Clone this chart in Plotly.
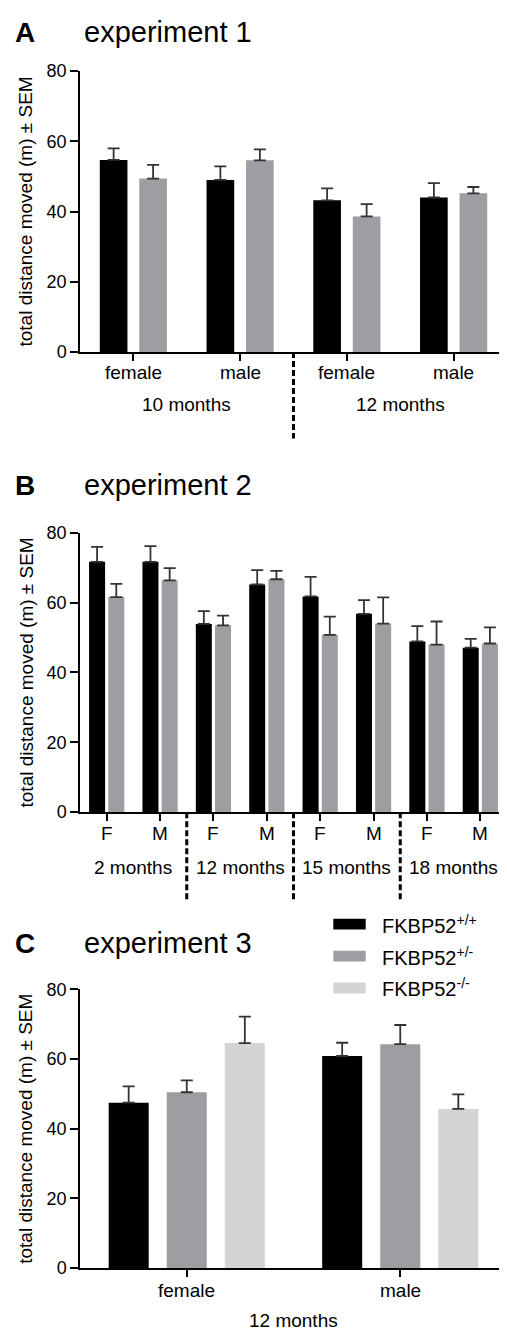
import plotly.graph_objects as go

# The page body has an 8px default margin, so the figure is sized to fit
# inside the 507x1344 window and all page positions are shifted by OFF.
PAGE_W, PAGE_H = 507, 1344
OFF = 8
W, H = PAGE_W - OFF, PAGE_H - 2 * OFF

# ---------------- data ----------------
genotypes = ["FKBP52<sup>+/+</sup>", "FKBP52<sup>+/-</sup>", "FKBP52<sup>-/-</sup>"]

# Experiment 1
exp1_ticks = ["female", "male", "female", "male"]
exp1_groups = ["10 months", "12 months"]
exp1_wt = [54.7, 49.0, 43.2, 44.0]
exp1_wt_sem = [3.3, 3.9, 3.4, 4.1]
exp1_het = [49.4, 54.6, 38.6, 45.2]
exp1_het_sem = [3.9, 3.1, 3.5, 1.8]

# Experiment 2
exp2_ticks = ["F", "M", "F", "M", "F", "M", "F", "M"]
exp2_groups = ["2 months", "12 months", "15 months", "18 months"]
exp2_wt = [71.7, 71.7, 53.9, 65.2, 61.8, 56.8, 48.9, 47.1]
exp2_wt_sem = [4.3, 4.5, 3.7, 4.1, 5.6, 3.9, 4.4, 2.5]
exp2_het = [61.6, 66.4, 53.5, 66.7, 50.8, 54.0, 48.0, 48.3]
exp2_het_sem = [3.8, 3.5, 2.8, 2.4, 5.2, 7.5, 6.6, 4.6]

# Experiment 3
exp3_ticks = ["female", "male"]
exp3_groups = ["12 months"]
exp3_wt = [47.5, 60.9]
exp3_wt_sem = [4.7, 3.8]
exp3_het = [50.5, 64.3]
exp3_het_sem = [3.4, 5.5]
exp3_ko = [64.6, 45.7]
exp3_ko_sem = [7.6, 4.2]

y_ticks = [0, 20, 40, 60, 80]
y_title = "total distance moved (m) ± SEM"

# ---------------- style ----------------
FONT = "Liberation Sans, Arial, Helvetica, sans-serif"
COLORS = ["#000000", "#9d9da2", "#d4d4d4"]
ERR_COLOR = "#333333"


def py(p):
    return 1 - (p - OFF) / H


def px_x(p):
    return (p - OFF) / W


panels = [
    # (top px, bottom px) on the page
    (62.0, 347.0),
    (530.7, 814.3),
    (994.3, 1277.3),
]

fig = go.Figure()


def add_bars(axis_idx, values, sems, color, offset, width, name):
    xs = list(range(len(values)))
    fig.add_trace(go.Bar(
        x=xs, y=values, name=name, showlegend=False,
        marker=dict(color=color, line=dict(width=0)),
        offset=offset, width=width,
        error_y=dict(type="data", symmetric=False, array=sems,
                     arrayminus=[0] * len(values), color=ERR_COLOR,
                     thickness=1.8, width=6),
        xaxis="x" if axis_idx == 1 else f"x{axis_idx}",
        yaxis="y" if axis_idx == 1 else f"y{axis_idx}",
    ))


# Panel A
wA = 0.259
add_bars(1, exp1_wt, exp1_wt_sem, COLORS[0], -0.185 - wA / 2, wA, genotypes[0])
add_bars(1, exp1_het, exp1_het_sem, COLORS[1], 0.185 - wA / 2, wA, genotypes[1])
# Panel B
wB = 0.30
add_bars(2, exp2_wt, exp2_wt_sem, COLORS[0], -0.18 - wB / 2, wB, genotypes[0])
add_bars(2, exp2_het, exp2_het_sem, COLORS[1], 0.18 - wB / 2, wB, genotypes[1])
# Panel C
wC = 0.1875
add_bars(3, exp3_wt, exp3_wt_sem, COLORS[0], -0.272 - wC / 2, wC, genotypes[0])
add_bars(3, exp3_het, exp3_het_sem, COLORS[1], -wC / 2, wC, genotypes[1])
add_bars(3, exp3_ko, exp3_ko_sem, COLORS[2], 0.272 - wC / 2, wC, genotypes[2])

tick_lists = [exp1_ticks, exp2_ticks, exp3_ticks]
group_lists = [exp1_groups, exp2_groups, exp3_groups]

layout = dict(
    width=W, height=H,
    margin=dict(l=0, r=0, t=0, b=0),
    paper_bgcolor="white", plot_bgcolor="white",
    font=dict(family=FONT, color="black", size=18),
    barmode="overlay",
    showlegend=False,
)

annotations = []
shapes = []

cat_offsets = [21, 22, 22.7]      # px below axis for tick labels (center)
grp_offsets = [53, 55.7, 52.7]    # px below axis for group labels (center)
sep_len = [88, 89, 0]

for i, (top, bot) in enumerate(panels, start=1):
    sfx = "" if i == 1 else str(i)
    ticks = tick_lists[i - 1]
    n = len(ticks)
    layout[f"xaxis{sfx}"] = dict(
        domain=[px_x(80), 1.0], range=[-0.5, n - 0.5],
        anchor=f"y{sfx}", showline=True, linecolor="black", linewidth=1.5,
        ticks="outside", ticklen=7, tickwidth=1.5, tickcolor="black",
        tickvals=list(range(n)), showticklabels=False,
        showgrid=False, zeroline=False, fixedrange=True,
    )
    layout[f"yaxis{sfx}"] = dict(
        domain=[py(bot), py(top)], range=[0, 80],
        anchor=f"x{sfx}", showline=True, linecolor="black", linewidth=1.5,
        ticks="outside", ticklen=8, tickwidth=1.5, tickcolor="black",
        tickvals=y_ticks, tickfont=dict(size=18),
        showgrid=False, zeroline=False, fixedrange=True,
    )
    dom_h = bot - top
    xref = f"x{sfx}"
    yref = f"y{sfx} domain"
    # category tick labels
    for k, t in enumerate(ticks):
        annotations.append(dict(
            x=k, y=-cat_offsets[i - 1] / dom_h, xref=xref, yref=yref,
            text=t, showarrow=False, xanchor="center", yanchor="middle",
            font=dict(size=19),
        ))
    # group labels
    groups = group_lists[i - 1]
    per = n // len(groups)
    for g, lab in enumerate(groups):
        annotations.append(dict(
            x=g * per + (per - 1) / 2, y=-grp_offsets[i - 1] / dom_h,
            xref=xref, yref=yref, text=lab, showarrow=False,
            xanchor="center", yanchor="middle", font=dict(size=19),
        ))
        if g > 0:
            xs = g * per - 0.5
            shapes.append(dict(
                type="line", xref=xref, yref=yref, x0=xs, x1=xs,
                y0=0, y1=-sep_len[i - 1] / dom_h,
                line=dict(color="black", width=3, dash="6px,3px"),
            ))
    # y title
    annotations.append(dict(
        x=px_x(26), y=py((top + bot) / 2), xref="paper", yref="paper",
        text=y_title, textangle=-90, showarrow=False,
        xanchor="center", yanchor="middle", font=dict(size=19),
    ))

# panel letters and titles
titles = [("A", "experiment 1", 22.5), ("B", "experiment 2", 482.5), ("C", "experiment 3", 947.5)]
for letter, title, yc in titles:
    annotations.append(dict(
        x=px_x(13), y=py(yc), xref="paper", yref="paper", text=f"<b>{letter}</b>",
        showarrow=False, xanchor="left", yanchor="middle", font=dict(size=28),
    ))
    annotations.append(dict(
        x=px_x(82), y=py(yc), xref="paper", yref="paper", text=title,
        showarrow=False, xanchor="left", yanchor="middle", font=dict(size=29),
    ))

# legend (drawn manually)
leg_y = [928.0, 960.5, 992.8]
for lab, col, yc in zip(genotypes, COLORS, leg_y):
    shapes.append(dict(
        type="rect", xref="paper", yref="paper",
        x0=px_x(333.3), x1=px_x(365.7), y0=py(yc + 5.5), y1=py(yc - 5.5),
        fillcolor=col, line=dict(width=0),
    ))
    annotations.append(dict(
        x=px_x(380), y=py(yc), xref="paper", yref="paper", text=lab,
        showarrow=False, xanchor="left", yanchor="middle", font=dict(size=20),
    ))

layout["annotations"] = annotations
layout["shapes"] = shapes
fig.update_layout(**layout)

fig.write_html("out.html")
